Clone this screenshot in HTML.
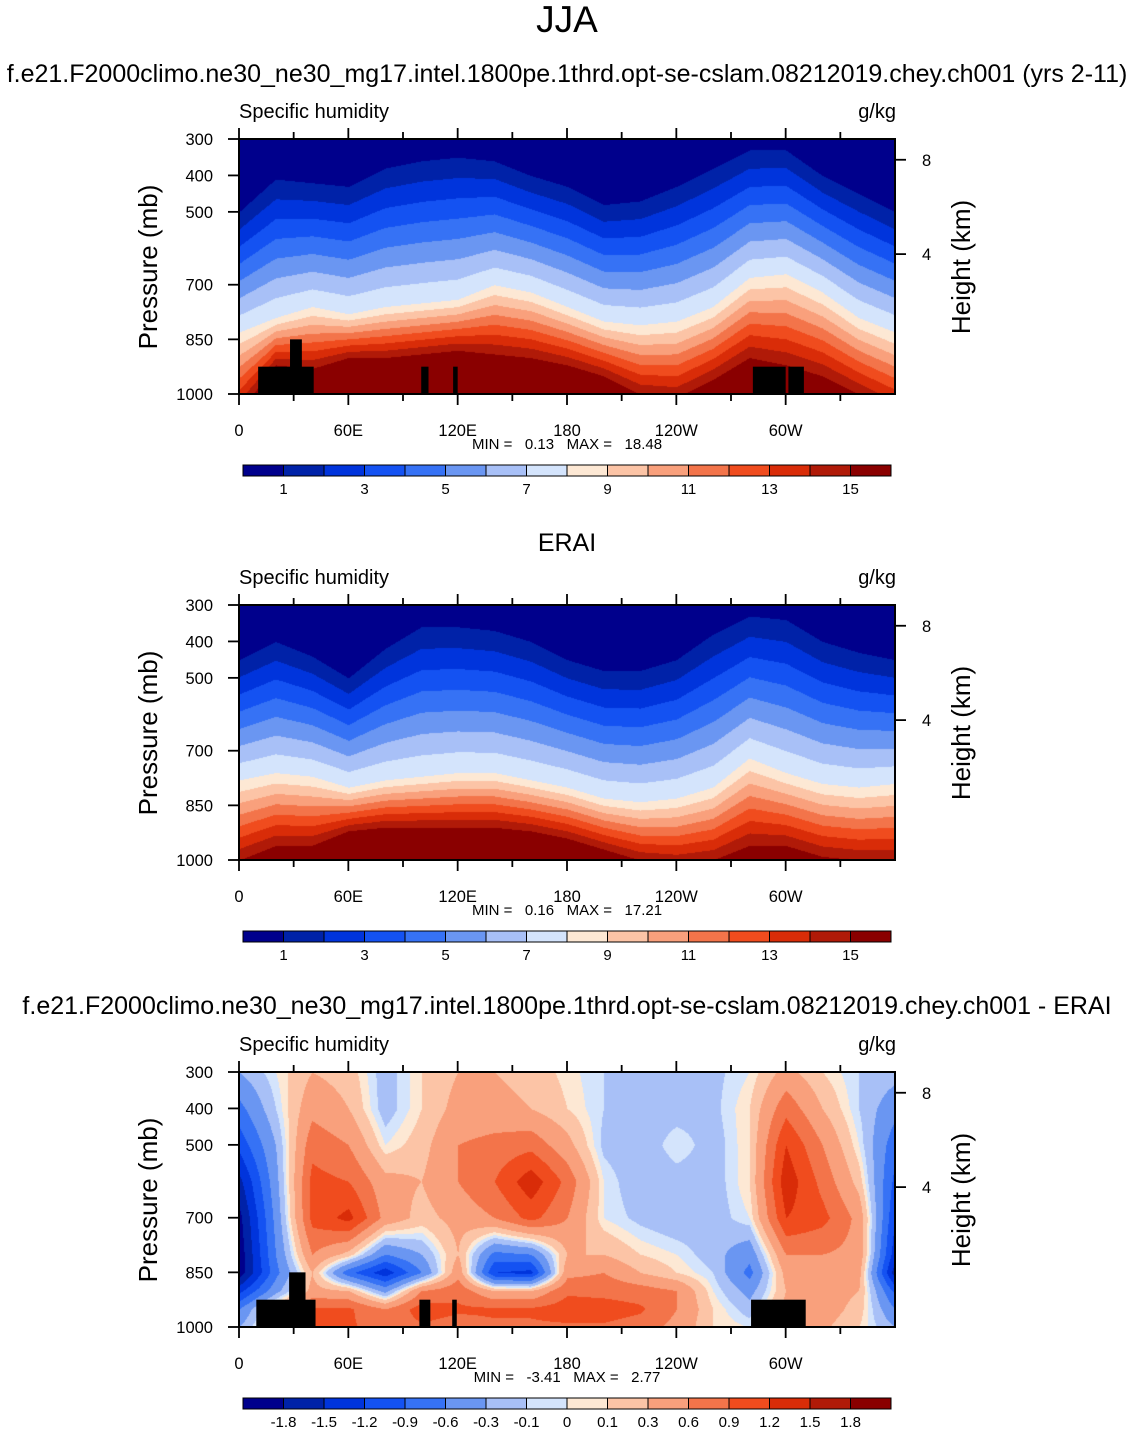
<!DOCTYPE html>
<html><head><meta charset="utf-8">
<style>
body{margin:0;background:#fff;width:1135px;height:1432px;overflow:hidden;position:relative;font-family:"Liberation Sans",Helvetica,Arial,sans-serif}
canvas{position:absolute}
svg{position:absolute;left:0;top:0}
</style></head>
<body>
<canvas id="c0" width="656" height="255" style="left:239px;top:139px"></canvas>
<canvas id="c1" width="656" height="255" style="left:239px;top:605px"></canvas>
<canvas id="c2" width="656" height="255" style="left:239px;top:1072px"></canvas>
<svg id="s" width="1135" height="1432"></svg>
<script>
// ---- data ----
const lons=[0,20,40,60,80,100,120,140,160,180,200,220,240,260,280,300,320,340,360];
// panel 1 (model): pressure of contour boundaries 1, 8, 15 g/kg
const m_b1 =[500,410,420,430,380,360,350,360,400,430,480,470,430,380,330,330,400,450,500];
const m_b8 =[830,790,760,780,760,750,740,700,720,760,800,810,800,760,680,670,720,790,830];
const m_b15=[1050,920,930,900,900,890,880,890,900,920,950,1000,1010,960,900,920,950,1000,1050];
// panel 2 (ERAI)
const e_b1 =[450,400,440,500,420,360,360,370,400,450,480,480,450,380,330,340,400,430,450];
const e_b8 =[780,760,770,800,780,770,760,760,780,800,830,840,830,800,720,760,790,800,790];
const e_b15=[1000,960,960,920,910,910,910,910,920,940,970,1000,1010,1000,960,960,990,1000,1000];
// panel 3 (difference) grid values
const dPres=[300,400,500,600,700,800,850,900,950,1000];
const dVals=[
[-0.3,0.0,0.3,0.2,-0.2,0.1,0.3,0.3,0.2,0.05,-0.1,-0.15,-0.15,-0.15,0.0,0.4,0.1,-0.1,-0.2],
[-0.7,-0.1,0.5,0.3,-0.2,0.1,0.4,0.4,0.3,0.1,-0.1,-0.2,-0.2,-0.15,0.1,0.8,0.3,-0.1,-0.5],
[-1.1,-0.3,0.8,0.6,0.0,0.2,0.6,0.7,0.8,0.4,-0.15,-0.25,0.0,-0.2,0.1,1.2,0.6,0.0,-0.8],
[-1.6,-0.4,1.0,0.9,0.4,0.3,0.6,0.9,1.4,0.8,0.0,-0.25,-0.2,-0.2,0.1,1.4,0.8,0.2,-1.0],
[-1.9,-0.5,1.0,1.3,0.5,0.2,0.4,0.6,1.0,0.6,0.0,-0.15,-0.25,-0.2,0.0,1.2,1.0,0.5,-1.2],
[-2.0,-0.6,0.6,0.2,-0.6,-0.3,0.3,-0.7,-0.6,0.3,0.3,0.1,0.0,-0.2,-0.5,0.6,0.6,0.5,-1.4],
[-2.0,-0.7,0.3,-0.8,-1.4,-0.6,0.5,-1.2,-1.3,0.5,0.6,0.3,0.1,-0.1,-0.7,0.4,0.4,0.4,-1.7],
[-1.3,-0.4,0.4,0.3,-0.4,0.6,0.8,0.3,0.3,0.85,0.8,0.75,0.6,0.0,-0.4,0.3,0.45,0.3,-1.0],
[-0.6,0.3,0.95,0.95,0.6,1.05,0.95,0.95,0.95,1.05,1.05,0.95,0.6,0.1,-0.2,0.4,0.45,0.2,-0.6],
[-0.3,0.3,0.95,0.95,0.75,0.85,0.75,0.85,0.85,0.85,0.85,0.75,0.5,0.1,0.0,0.4,0.35,0.1,-0.3]];
const qLevels=[1,2,3,4,5,6,7,8,9,10,11,12,13,14,15];
const qLabels=["1","3","5","7","9","11","13","15"];
const dLevels=[-1.8,-1.5,-1.2,-0.9,-0.6,-0.3,-0.1,0,0.1,0.3,0.6,0.9,1.2,1.5,1.8];
const dLabels=["-1.8","-1.5","-1.2","-0.9","-0.6","-0.3","-0.1","0","0.1","0.3","0.6","0.9","1.2","1.5","1.8"];
const colors=["#00008c","#0022a8","#0034dc","#1452f2","#3672f5","#6a96f2","#a8c0f7","#d4e4fc","#fde8d4","#fcc4a6","#f9a07c","#f3744a","#f04c1e","#d92c08","#b01a08","#8a0000"];
const lonTicks=[0,60,120,180,240,300];
const lonTickLabels=["0","60E","120E","180","120W","60W"];
const presTicks=[300,400,500,700,850,1000];
const hPres=[357,616]; const hLabels=["8","4"];
const topo1=[[10.5,41,925],[28,34.5,850],[100,104,925],[117.5,120,925],[282,300,925],[301.5,310,925]];
const topo3=[[9.5,42,925],[27.5,36.5,850],[99,105,925],[117,119.5,925],[281,311,925]];
const minmax=[["0.13","18.48"],["0.16","17.21"],["-3.41","2.77"]];
// ---- helpers ----
const W=656,H=255,X0=239;
const xOf=l=>X0+l/360*W;
const yOf=(p,top)=>top+(p-300)/700*H;
function interp(arr,l){let i=Math.min(Math.floor(l/20),17);let t=(l-lons[i])/20;return arr[i]*(1-t)+arr[i+1]*t;}
function binOf(v,lev){let k=0;while(k<lev.length&&v>=lev[k])k++;return k;}
function drawQ(id,b1,b8,b15){
  const ctx=document.getElementById(id).getContext('2d');
  for(let x=0;x<W;x+=1){const l=x/W*360;const p1=interp(b1,l),p8=interp(b8,l),p15=interp(b15,l);
    for(let y=0;y<H;y+=1){const p=300+y/H*700;let v;
      if(p<p1)v=0.5;else if(p<p8)v=1+7*(p-p1)/(p8-p1);else if(p<p15)v=8+7*(p-p8)/(p15-p8);else v=15.5;
      ctx.fillStyle=colors[binOf(v,qLevels)];ctx.fillRect(x,y,1,1);}}
}
function drawD(id){
  const ctx=document.getElementById(id).getContext('2d');
  for(let x=0;x<W;x++){const l=x/W*360;let i=Math.min(Math.floor(l/20),17);let t=(l-lons[i])/20;
    for(let y=0;y<H;y++){const p=300+y/H*700;let j=0;while(j<dPres.length-2&&p>dPres[j+1])j++;
      let u=(p-dPres[j])/(dPres[j+1]-dPres[j]);
      const v=(dVals[j][i]*(1-t)+dVals[j][i+1]*t)*(1-u)+(dVals[j+1][i]*(1-t)+dVals[j+1][i+1]*t)*u;
      ctx.fillStyle=colors[binOf(v,dLevels)];ctx.fillRect(x,y,1,1);}}
}
drawQ('c0',m_b1,m_b8,m_b15);drawQ('c1',e_b1,e_b8,e_b15);drawD('c2');
const s=document.getElementById('s');const NS='http://www.w3.org/2000/svg';
function el(tag,attrs,txt){const e=document.createElementNS(NS,tag);for(const k in attrs)e.setAttribute(k,attrs[k]);if(txt!==undefined)e.textContent=txt;s.appendChild(e);return e;}
function txt(x,y,t,size,anchor,name){const e=el('text',{x:x,y:y,'font-size':size,'text-anchor':anchor||'middle',fill:'#000','font-family':'Liberation Sans, sans-serif'},t);
  
  return e;}
txt(567,32,"JJA",37,'middle','main-title');
const tops=[139,605,1072];
const titles=["f.e21.F2000climo.ne30_ne30_mg17.intel.1800pe.1thrd.opt-se-cslam.08212019.chey.ch001 (yrs 2-11)","ERAI","f.e21.F2000climo.ne30_ne30_mg17.intel.1800pe.1thrd.opt-se-cslam.08212019.chey.ch001 - ERAI"];
const titleY=[82,551,1014];
const pnames=['model','erai','diff'];
tops.forEach((top,k)=>{
  const pn=pnames[k];
  txt(567,titleY[k],titles[k],25,'middle',pn+'-panel-title');
  txt(239,top-21,"Specific humidity",20,'start',pn+'-variable-label');
  txt(896,top-21,"g/kg",20,'end',pn+'-units-label');
  const tp=k==0?topo1:k==2?topo3:[];
  tp.forEach(r=>{const e=el('rect',{x:xOf(r[0]),y:yOf(r[2],top),width:xOf(r[1])-xOf(r[0]),height:yOf(1000,top)-yOf(r[2],top),fill:'#000'});
    
    });
  const fr=el('rect',{x:X0,y:top,width:W,height:H,fill:'none',stroke:'#000','stroke-width':2});
  
  
  for(let l=0;l<=330;l+=30){const x=xOf(l);const len=l%60==0?11:7;
    el('line',{x1:x,y1:top,x2:x,y2:top-len,stroke:'#000','stroke-width':1.8});
    el('line',{x1:x,y1:top+H,x2:x,y2:top+H+len,stroke:'#000','stroke-width':1.8});}
  lonTicks.forEach((l,i)=>txt(xOf(l),top+H+42,lonTickLabels[i],16.5,'middle',pn+'-lon-tick-label'));
  presTicks.forEach(p=>{const y=yOf(p,top);el('line',{x1:X0,y1:y,x2:X0-11,y2:y,stroke:'#000','stroke-width':1.8});
    txt(213,y+6,String(p),16.5,'end',pn+'-pressure-tick-label');});
  hPres.forEach((p,i)=>{const y=yOf(p,top);el('line',{x1:X0+W,y1:y,x2:X0+W+11,y2:y,stroke:'#000','stroke-width':1.8});
    txt(922,y+6,hLabels[i],16.5,'start',pn+'-height-tick-label');});
  const yt=txt(0,0,"Pressure (mb)",26,'middle',pn+'-y-axis-title');yt.setAttribute('transform',`translate(157,${top+128}) rotate(-90)`);
  const ht=txt(0,0,"Height (km)",26,'middle',pn+'-right-axis-title');ht.setAttribute('transform',`translate(970,${top+128}) rotate(-90)`);
  const mm=txt(567,top+310,`MIN =   ${minmax[k][0]}   MAX =   ${minmax[k][1]}`,15,'middle',pn+'-min-max-label');mm.setAttribute('style','white-space:pre');
  const cy=top+326,bw=40.5;
  colors.forEach((c,i)=>{const e=el('rect',{x:243+i*bw,y:cy,width:bw,height:11,fill:c,stroke:'#000','stroke-width':1});
    
    });
  if(k<2){qLabels.forEach((t,i)=>txt(243+bw*(1+2*i),cy+29,t,15,'middle',pn+'-colorbar-label'));}
  else{dLabels.forEach((t,i)=>txt(243+bw*(1+i),cy+29,t,15,'middle','diff-colorbar-label'));}
});
</script>
</body></html>
